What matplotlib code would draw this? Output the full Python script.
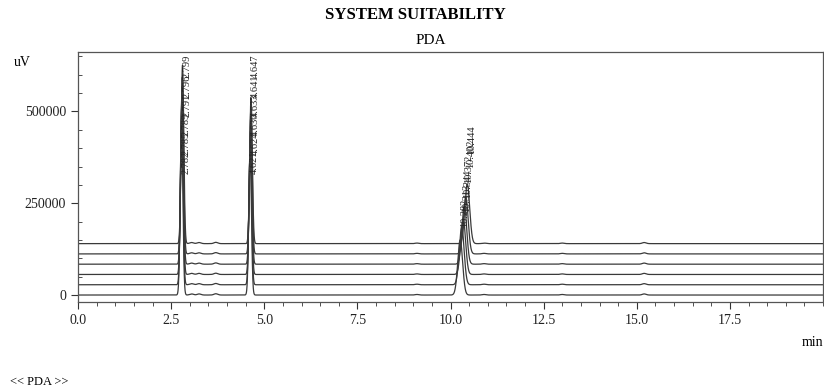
import numpy as np
import matplotlib
matplotlib.use("Agg")
import matplotlib.pyplot as plt
from matplotlib.ticker import MultipleLocator

plt.rcParams['font.family'] = ['Liberation Serif', 'DejaVu Serif']

# Trace vertical offsets (uV) for the 6 overlaid injections
offsets = [0, 28000, 56000, 84000, 112000, 140000]

# Main peaks: retention times (min), heights (uV), widths (sigma, min)
rt1 = [2.78, 2.785, 2.79, 2.795, 2.80, 2.805]
h1 = [478000, 482000, 480000, 484000, 481000, 486000]
rt2 = [4.62, 4.625, 4.63, 4.635, 4.64, 4.645]
h2 = [392000, 395000, 390000, 396000, 393000, 397000]
rt3 = [10.26, 10.30, 10.34, 10.37, 10.41, 10.45]
h3 = [150000, 158000, 152000, 160000, 155000, 162000]
sig = [0.035, 0.035, 0.065]

# Small impurity bumps: (time, height)
bump_t = [3.05, 3.25, 3.7, 9.1, 10.9, 13.0, 15.2]
bump_h = [3000, 3000, 3500, 1500, 1500, 1500, 3000]

# Peak labels
lab1 = ["2.782", "2.785", "2.789", "2.791", "2.796", "2.799"]
lab2 = ["4.621", "4.624", "4.630", "4.633", "4.641", "4.647"]
lab3 = ["10.282", "10.313", "10.344", "10.372", "10.402", "10.444"]

fig = plt.figure(figsize=(8.24, 3.92), dpi=100)
ax = fig.add_axes([78/824, 90/392, 745/824, 250/392])

t = np.linspace(0, 20, 8000)
for i, off in enumerate(offsets):
    y = np.full_like(t, off, dtype=float)
    for rts, hs, s in ((rt1, h1, sig[0]), (rt2, h2, sig[1]), (rt3, h3, sig[2])):
        y += hs[i] * np.exp(-0.5 * ((t - rts[i]) / s) ** 2)
    for bt, bh in zip(bump_t, bump_h):
        y += bh * np.exp(-0.5 * ((t - bt) / 0.05) ** 2)
    ax.plot(t, y, color='#3a3a3a', lw=0.9)

# labels
for labs, rts, base, step in ((lab1, rt1, 330000, 52000), (lab2, rt2, 330000, 52000),
                              (lab3, rt3, 185000, 40000)):
    for i, (lb, r) in enumerate(zip(labs, rts)):
        ax.text(r + 0.12, base + i * step, lb, rotation=90, fontsize=7.5,
                ha='center', va='bottom', color='#222222')

ax.set_xlim(0, 20)
ax.set_ylim(-19000, 662000)
ax.set_yticks([0, 250000, 500000])
ax.set_xticks([0, 2.5, 5, 7.5, 10, 12.5, 15, 17.5])
ax.set_xticklabels(["0.0", "2.5", "5.0", "7.5", "10.0", "12.5", "15.0", "17.5"])
ax.xaxis.set_minor_locator(MultipleLocator(0.5))
ax.yaxis.set_minor_locator(MultipleLocator(50000))
ax.tick_params(axis='both', which='major', labelsize=10, length=5, width=0.8,
               color='#333333', labelcolor='#222222')
ax.tick_params(axis='both', which='minor', length=3, width=0.6, color='#333333')
ax.tick_params(axis='y', which='minor', direction='in')
for sp in ax.spines.values():
    sp.set_color('#555555')
    sp.set_linewidth(0.9)

fig.text(415/824, 1 - 15/392, "SYSTEM SUITABILITY", ha='center', va='center',
         fontsize=12, fontweight='bold')
fig.text(431/824, 1 - 41/392, "PDA", ha='center', va='center', fontsize=11)
fig.text(22/824, 1 - 62/392, "uV", ha='center', va='center', fontsize=10)
fig.text(823/824, 1 - 342/392, "min", ha='right', va='center', fontsize=10)
fig.text(10/824, 1 - 382/392, "<< PDA >>", ha='left', va='center', fontsize=9)

fig.savefig("out.png", dpi=100)
